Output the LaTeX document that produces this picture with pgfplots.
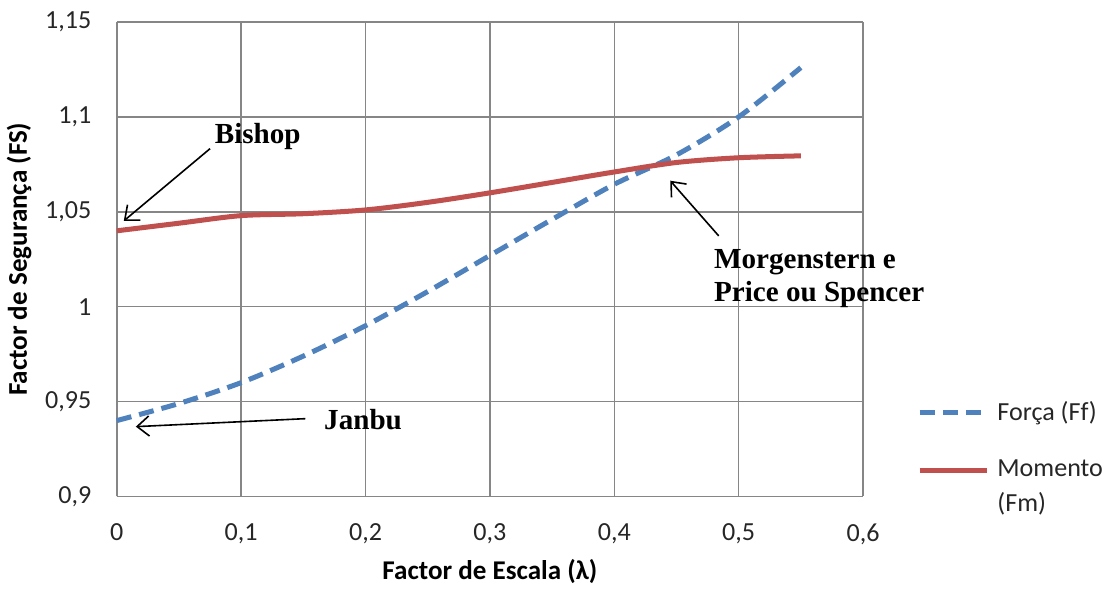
\documentclass[border=0pt]{standalone}
\usepackage{pgfplots}
\pgfplotsset{compat=1.18}
\usetikzlibrary{arrows.meta}
\usepackage{fontspec}
\setmainfont{Carlito}
\newfontfamily\annfont{Liberation Serif}

\definecolor{forca}{RGB}{79,129,189}
\definecolor{momento}{RGB}{192,80,77}
\definecolor{gridgray}{RGB}{134,134,134}

\pgfplotstableread{
x     fs
0.00  0.940
0.05  0.949
0.10  0.960
0.15  0.974
0.20  0.990
0.25  1.008
0.30  1.027
0.35  1.046
0.40  1.0645
0.45  1.080
0.50  1.100
0.55  1.126
}\forcatab

\pgfplotstableread{
x     fs
0.00  1.040
0.05  1.044
0.10  1.048
0.15  1.049
0.20  1.051
0.25  1.055
0.30  1.060
0.35  1.0655
0.40  1.071
0.45  1.076
0.50  1.0785
0.55  1.0795
}\momentotab

\tikzset{annot/.style={font=\annfont\fontsize{14.5}{16.5}\selectfont\bfseries},
  pointer/.style={-{Straight Barb[length=6pt,width=10pt]}, line width=0.8pt}}

\begin{document}
\begin{tikzpicture}
\begin{axis}[
  scale only axis,
  width=372pt, height=236.5pt,
  xmin=0, xmax=0.6, ymin=0.9, ymax=1.15,
  xtick={0,0.1,0.2,0.3,0.4,0.5,0.6},
  xticklabels={0,{0,1},{0,2},{0,3},{0,4},{0,5},{0,6}},
  ytick={0.9,0.95,1,1.05,1.1,1.15},
  yticklabels={{0,9},{0,95},1,{1,05},{1,1},{1,15}},
  tick style={draw=none},
  grid=major,
  major grid style={gridgray, line width=0.75pt},
  axis line style={gridgray, line width=0.75pt},
  axis x line*=bottom, axis y line*=left,
  ticklabel style={font=\fontsize{13}{15}\selectfont, text=black!85},
  yticklabel style={xshift=-9.2pt},
  xticklabel style={yshift=-10pt},
  xlabel={Factor de Escala (λ)},
  ylabel={Factor de Segurança (FS)},
  label style={font=\fontsize{13.5}{15}\selectfont\bfseries},
  xlabel style={at={(axis description cs:0.5,0)}, anchor=north, yshift=-28pt},
  ylabel style={at={(axis description cs:-0.105,0.5)}, anchor=south},
  clip=false,
  legend cell align=left,
  legend style={draw=none, fill=none,
    at={(rel axis cs:1.064,0.219)}, anchor=north west,
    font=\fontsize{13}{16}\selectfont,
    nodes={text=black!85},
    row sep=14.5pt, column sep=2pt},
  legend image code/.code={\draw[#1] (0pt,0pt) -- (33.5pt,0pt);},
]
\addplot[forca, line width=2.5pt, dash pattern=on 7.5pt off 4pt, smooth, tension=0.5]
  table[x=x, y=fs] {\forcatab};
\addlegendentry{Força (Ff)}
\addplot[momento, line width=2.5pt, smooth, tension=0.5]
  table[x=x, y=fs] {\momentotab};
\addlegendentry{\smash{\rlap{\raisebox{-17pt}{(Fm)}}}Momento}

% method labels with pointers
\node[annot] at (axis cs:0.1133,1.0899) {Bishop};
\draw[pointer] (axis cs:0.075,1.0833) -- (axis cs:0.0056,1.0452);
\node[annot] at (axis cs:0.198,0.9405) {Janbu};
\draw[pointer] (axis cs:0.1516,0.941) -- (axis cs:0.0153,0.9368);
\node[annot, align=left, anchor=north west, inner sep=0pt] at (axis cs:0.480,1.0304) {Morgenstern e\\Price ou Spencer};
\draw[pointer] (axis cs:0.484,1.0373) -- (axis cs:0.445,1.0664);

% white margin above the plot area
\path (rel axis cs:0,1) ++(0pt,11pt);
\end{axis}
\end{tikzpicture}
\end{document}
